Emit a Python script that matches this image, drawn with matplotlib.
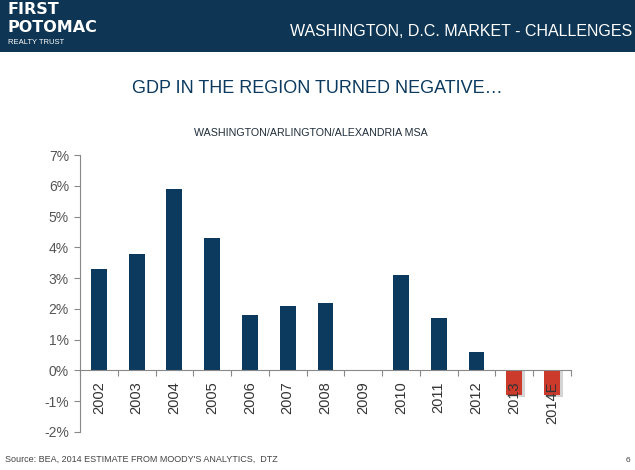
import matplotlib.pyplot as plt
from matplotlib.patches import Rectangle

years = ['2002', '2003', '2004', '2005', '2006', '2007', '2008', '2009',
         '2010', '2011', '2012', '2013', '2014E']
gdp = [3.3, 3.8, 5.9, 4.3, 1.8, 2.1, 2.2, 0.0, 3.1, 1.7, 0.6, -0.8, -0.8]
yticks = [-2, -1, 0, 1, 2, 3, 4, 5, 6, 7]

navy = '#0b3a5e'
red = '#cc3a2c'

plt.rcParams['font.family'] = ['Liberation Sans', 'DejaVu Sans']

fig = plt.figure(figsize=(6.35, 4.7), dpi=100)
fig.patch.set_facecolor('white')

# header band
fig.patches.append(Rectangle((0, 1 - 52 / 470), 1, 52 / 470, transform=fig.transFigure,
                             facecolor='#0e3553', edgecolor='none', zorder=0))
fig.text(0.012, 1 - 10 / 470, 'FIRST', color='white', fontsize=11.5, fontweight='bold',
         va='center', family='DejaVu Sans')
fig.text(0.012, 1 - 27 / 470, 'POTOMAC', color='white', fontsize=11.5, fontweight='bold',
         va='center', family='DejaVu Sans')
fig.text(0.012, 1 - 42 / 470, 'REALTY TRUST', color='white', fontsize=5.5, va='center')
fig.text(0.995, 0.932, 'WASHINGTON, D.C. MARKET - CHALLENGES', color='white',
         fontsize=11.5, ha='right', va='center')

fig.text(0.5, 0.812, 'GDP IN THE REGION TURNED NEGATIVE\u2026', color=navy,
         fontsize=13, ha='center', va='center')
fig.text(0.49, 0.717, 'WASHINGTON/ARLINGTON/ALEXANDRIA MSA', color='#1f2d3a',
         fontsize=7.7, ha='center', va='center')

ax = fig.add_axes([0.126, 0.081, 0.773, 0.589])
ax.set_axisbelow(False)
x = range(len(years))
colors = [red if v < 0 else navy for v in gdp]
# shadow for negative bars
for i, v in enumerate(gdp):
    if v < 0:
        ax.bar(i + 0.05, v - 0.05, width=0.46, color='#aaaaaa', alpha=0.5, zorder=0.8)
ax.bar(x, gdp, width=0.42, color=colors, zorder=1)

ax.set_ylim(-2, 7)
ax.set_xlim(-0.5, len(years) - 0.5)
ax.set_yticks(yticks)
ax.set_yticklabels(['%d%%' % t for t in yticks], fontsize=10, color='#555555')
ax.tick_params(axis='y', length=4, color='#888888', pad=4)

ax.spines['top'].set_visible(False)
ax.spines['right'].set_visible(False)
ax.spines['left'].set_color('#888888')
ax.spines['bottom'].set_color('#888888')
ax.spines['bottom'].set_position(('data', 0))

ax.set_xticks([i - 0.5 for i in range(len(years) + 1)], minor=False)
ax.set_xticklabels([])
ax.tick_params(axis='x', length=4, color='#888888')
ax.set_xticks(list(x), minor=True)
ax.set_xticklabels(years, minor=True, rotation=90, fontsize=10.5, color='#333333')
ax.tick_params(axis='x', which='minor', length=0, pad=8)

fig.text(0.008, 0.013, "Source: BEA, 2014 ESTIMATE FROM MOODY'S ANALYTICS,  DTZ",
         fontsize=6.5, color='#444444', va='bottom')
fig.text(0.985, 0.013, '6', fontsize=6, color='#444444', va='bottom')

fig.savefig('out.png', dpi=100)
plt.close()
